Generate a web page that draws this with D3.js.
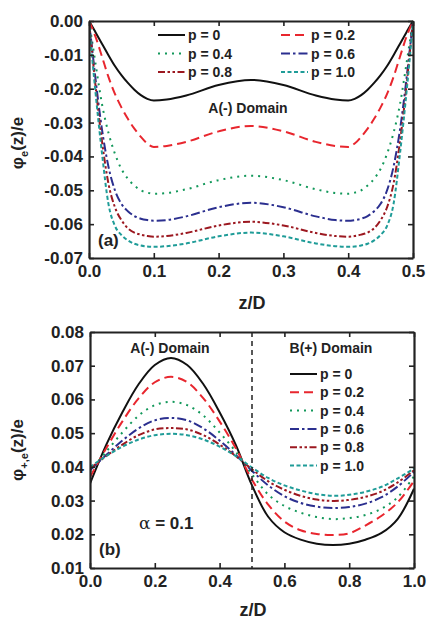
<!DOCTYPE html>
<html>
<head>
<meta charset="utf-8">
<script src="https://cdn.jsdelivr.net/npm/d3@7/dist/d3.min.js"></script>
<style>
  body { margin: 0; background: #fff; }
  svg { display: block; font-family: "Liberation Sans", Arial, sans-serif; font-weight: bold; }
  .tick text { font-size: 17px; fill: #222; }
  .leg { font-size: 14px; fill: #222; }
</style>
</head>
<body>
<svg id="chart" width="427" height="620"></svg>
<script>
// ---- panel (a): phi_e(z)/e over z/D in [0, 0.5]
var zA = [0, 0.005, 0.01, 0.02, 0.03, 0.04, 0.05, 0.06, 0.07, 0.08, 0.09, 0.1, 0.12, 0.15, 0.2, 0.25,
  0.3, 0.35, 0.38, 0.4, 0.41, 0.42, 0.43, 0.44, 0.45, 0.46, 0.47, 0.48, 0.49, 0.495, 0.5];
var phiA_p00 = [0, -0.0016, -0.0033, -0.0067, -0.0101, -0.0133, -0.0160, -0.0183, -0.0203, -0.0219, -0.0230, -0.0235, -0.0232, -0.0220, -0.0189, -0.0174,
  -0.0189, -0.0220, -0.0232, -0.0235, -0.0230, -0.0219, -0.0203, -0.0183, -0.0160, -0.0133, -0.0101, -0.0067, -0.0033, -0.0016, 0];
var phiA_p02 = [0, -0.0022, -0.0046, -0.0105, -0.0165, -0.0215, -0.0255, -0.0289, -0.0318, -0.0342, -0.0362, -0.0372, -0.0369, -0.0357, -0.0326, -0.0310,
  -0.0326, -0.0357, -0.0369, -0.0372, -0.0362, -0.0342, -0.0318, -0.0289, -0.0255, -0.0215, -0.0165, -0.0105, -0.0046, -0.0022, 0];
var phiA_p04 = [0, -0.0062, -0.0125, -0.0245, -0.0330, -0.0392, -0.0437, -0.0466, -0.0486, -0.0500, -0.0507, -0.0510, -0.0508, -0.0497, -0.0470, -0.0457,
  -0.0470, -0.0497, -0.0508, -0.0510, -0.0507, -0.0500, -0.0486, -0.0466, -0.0437, -0.0392, -0.0330, -0.0245, -0.0125, -0.0062, 0];
var phiA_p06 = [0, -0.0085, -0.0170, -0.0320, -0.0430, -0.0500, -0.0540, -0.0562, -0.0576, -0.0584, -0.0588, -0.0590, -0.0588, -0.0577, -0.0550, -0.0537,
  -0.0550, -0.0577, -0.0588, -0.0590, -0.0588, -0.0584, -0.0576, -0.0562, -0.0540, -0.0500, -0.0430, -0.0320, -0.0170, -0.0085, 0];
var phiA_p08 = [0, -0.0095, -0.0190, -0.0355, -0.0480, -0.0550, -0.0588, -0.0612, -0.0625, -0.0631, -0.0635, -0.0637, -0.0635, -0.0626, -0.0604, -0.0593,
  -0.0604, -0.0626, -0.0635, -0.0637, -0.0635, -0.0631, -0.0625, -0.0612, -0.0588, -0.0550, -0.0480, -0.0355, -0.0190, -0.0095, 0];
var phiA_p10 = [0, -0.0110, -0.0210, -0.0390, -0.0540, -0.0605, -0.0632, -0.0648, -0.0658, -0.0663, -0.0666, -0.0667, -0.0665, -0.0657, -0.0636, -0.0625,
  -0.0636, -0.0657, -0.0665, -0.0667, -0.0666, -0.0663, -0.0658, -0.0648, -0.0632, -0.0605, -0.0540, -0.0390, -0.0210, -0.0110, 0];

// ---- panel (b): phi_{+,e}(z)/e over z/D in [0, 1]
var zB = [0, 0.05, 0.1, 0.15, 0.2, 0.25, 0.3, 0.35, 0.4, 0.45, 0.5, 0.55, 0.6, 0.65, 0.7, 0.75, 0.8, 0.85, 0.9, 0.95, 1.0];
var phiB_p00 = [0.0350, 0.0465, 0.0562, 0.0645, 0.0702, 0.0723, 0.0702, 0.0645, 0.0562, 0.0465, 0.0345, 0.0252, 0.0206, 0.0184, 0.0172, 0.0168, 0.0172, 0.0184, 0.0204, 0.0246, 0.0335];
var phiB_p02 = [0.0370, 0.0455, 0.0535, 0.0603, 0.0651, 0.0667, 0.0651, 0.0603, 0.0535, 0.0455, 0.0362, 0.0288, 0.0238, 0.0212, 0.0201, 0.0198, 0.0203, 0.0226, 0.0255, 0.0295, 0.0358];
var phiB_p04 = [0.0385, 0.0445, 0.0502, 0.0552, 0.0583, 0.0593, 0.0583, 0.0552, 0.0502, 0.0445, 0.0378, 0.0318, 0.0284, 0.0264, 0.0251, 0.0245, 0.0248, 0.0257, 0.0276, 0.0310, 0.0372];
var phiB_p06 = [0.0390, 0.0435, 0.0478, 0.0514, 0.0538, 0.0545, 0.0538, 0.0514, 0.0478, 0.0435, 0.0388, 0.0345, 0.0313, 0.0293, 0.0282, 0.0278, 0.0281, 0.0291, 0.0310, 0.0342, 0.0385];
var phiB_p08 = [0.0395, 0.0432, 0.0466, 0.0494, 0.0511, 0.0515, 0.0511, 0.0494, 0.0466, 0.0432, 0.0393, 0.0357, 0.0332, 0.0314, 0.0303, 0.0299, 0.0302, 0.0311, 0.0327, 0.0354, 0.0390];
var phiB_p10 = [0.0400, 0.0432, 0.0460, 0.0481, 0.0494, 0.0498, 0.0494, 0.0481, 0.0460, 0.0432, 0.0398, 0.0367, 0.0345, 0.0330, 0.0319, 0.0314, 0.0317, 0.0326, 0.0341, 0.0366, 0.0395];

var pLabels = ['p = 0', 'p = 0.2', 'p = 0.4', 'p = 0.6', 'p = 0.8', 'p = 1.0'];
var xTicksA = [0, 0.1, 0.2, 0.3, 0.4, 0.5];
var yTicksA = [0, -0.01, -0.02, -0.03, -0.04, -0.05, -0.06, -0.07];
var xTicksB = [0, 0.2, 0.4, 0.6, 0.8, 1.0];
var yTicksB = [0.01, 0.02, 0.03, 0.04, 0.05, 0.06, 0.07, 0.08];

// line styles per p (same order as pLabels)
var STYLES = [
  { color: '#111111', dash: null },
  { color: '#e8262e', dash: '9,5' },
  { color: '#12985a', dash: '2,5' },
  { color: '#2b2f8f', dash: '9,3,2.5,3' },
  { color: '#9c1820', dash: '7,2.5,2.5,2.5,2.5,2.5' },
  { color: '#1f9c98', dash: '4,2.5' }
];

var svg = d3.select('#chart');

function panel(opt) {
  var x = d3.scaleLinear().domain(opt.xDomain).range([opt.left, opt.right]);
  var y = d3.scaleLinear().domain(opt.yDomain).range([opt.bottom, opt.top]);
  var g = svg.append('g');

  var clipId = 'clip' + opt.id;
  g.append('clipPath').attr('id', clipId).append('rect')
    .attr('x', opt.left).attr('y', opt.top - 1)
    .attr('width', opt.right - opt.left).attr('height', opt.bottom - opt.top + 2);

  // curves
  var line = d3.line().curve(opt.curve)
    .x(function (d) { return x(d[0]); }).y(function (d) { return y(d[1]); });
  opt.series.forEach(function (vals, i) {
    var pts = opt.z.map(function (z, j) { return [z, vals[j]]; });
    g.append('path').attr('clip-path', 'url(#' + clipId + ')')
      .attr('d', line(pts)).attr('fill', 'none')
      .attr('stroke', STYLES[i].color).attr('stroke-width', 2)
      .attr('stroke-dasharray', STYLES[i].dash);
  });

  var fmtY = function (d) { return d.toFixed(2); };
  var fmtX = function (d) { return d.toFixed(1); };

  var ax = [
    g.append('g').attr('transform', 'translate(0,' + opt.bottom + ')')
      .call(d3.axisBottom(x).tickValues(opt.xTicks).tickFormat(fmtX).tickSizeInner(-5).tickSizeOuter(0).tickPadding(5)),
    g.append('g').attr('transform', 'translate(0,' + opt.top + ')')
      .call(d3.axisTop(x).tickValues(opt.xTicks).tickFormat('').tickSizeInner(-5).tickSizeOuter(0)),
    g.append('g').attr('transform', 'translate(' + opt.left + ',0)')
      .call(d3.axisLeft(y).tickValues(opt.yTicks).tickFormat(fmtY).tickSizeInner(-5).tickSizeOuter(0).tickPadding(6)),
    g.append('g').attr('transform', 'translate(' + opt.right + ',0)')
      .call(d3.axisRight(y).tickValues(opt.yTicks).tickFormat('').tickSizeInner(-5).tickSizeOuter(0))
  ];
  ax.forEach(function (a) {
    a.select('.domain').attr('stroke', '#222').attr('stroke-width', 2.2);
    a.selectAll('.tick line').attr('stroke', '#222').attr('stroke-width', 1.6);
    a.selectAll('.tick text').attr('font-family', null).attr('font-size', null);
  });
  ax[0].selectAll('.tick text').attr('dy', '0.85em');

  // x title
  g.append('text').attr('x', (opt.left + opt.right) / 2 + 1).attr('y', opt.bottom + opt.xTitleDy)
    .attr('text-anchor', 'middle').attr('font-size', 18).attr('fill', '#222').text('z/D');

  // y title
  var yt = g.append('text')
    .attr('transform', 'translate(' + 23 + ',' + opt.yTitleY + ') rotate(-90)')
    .attr('text-anchor', 'middle').attr('font-size', 17).attr('fill', '#222');
  yt.append('tspan').text('\u03c6');
  yt.append('tspan').attr('font-size', 11).attr('dy', 5).text(opt.sub);
  yt.append('tspan').attr('dy', -5).text('(z)/e');

  return { g: g, x: x, y: y };
}

var a = panel({
  id: 'a', left: 89, right: 413, top: 21, bottom: 258,
  xDomain: [0, 0.5], yDomain: [-0.07, 0], xTicks: xTicksA, yTicks: yTicksA,
  z: zA, series: [phiA_p00, phiA_p02, phiA_p04, phiA_p06, phiA_p08, phiA_p10],
  curve: d3.curveMonotoneX, sub: 'e', yTitleY: 143, xTitleDy: 51
});

var b = panel({
  id: 'b', left: 90, right: 414, top: 332, bottom: 568,
  xDomain: [0, 1], yDomain: [0.01, 0.08], xTicks: xTicksB, yTicks: yTicksB,
  z: zB, series: [phiB_p00, phiB_p02, phiB_p04, phiB_p06, phiB_p08, phiB_p10],
  curve: d3.curveCatmullRom.alpha(0.5), sub: '+,e', yTitleY: 450, xTitleDy: 48
});

// domain boundary in (b)
b.g.append('line').attr('x1', b.x(0.5)).attr('x2', b.x(0.5))
  .attr('y1', b.y(0.08)).attr('y2', b.y(0.01))
  .attr('stroke', '#222').attr('stroke-width', 1.5).attr('stroke-dasharray', '5,4');

function legendItem(g, i, x0, yc) {
  var s = STYLES[i];
  g.append('line').attr('x1', x0).attr('x2', x0 + 27).attr('y1', yc).attr('y2', yc)
    .attr('stroke', s.color).attr('stroke-width', 2).attr('stroke-dasharray', s.dash);
  g.append('text').attr('class', 'leg').attr('x', x0 + 30).attr('y', yc)
    .attr('dy', '0.36em').text(pLabels[i]);
}

// legend (a): two columns
[0, 2, 4].forEach(function (i, r) { legendItem(a.g, i, 158, 35 + r * 18.5); });
[1, 3, 5].forEach(function (i, r) { legendItem(a.g, i, 281, 35 + r * 18.5); });

// legend (b): one column
pLabels.forEach(function (l, i) { legendItem(b.g, i, 290, 374 + i * 18.3); });

function note(g, txt, x, y, size, anchor) {
  return g.append('text').attr('x', x).attr('y', y).attr('dy', '0.36em')
    .attr('text-anchor', anchor || 'start').attr('font-size', size).attr('fill', '#222').text(txt);
}
note(a.g, 'A(-) Domain', 248, 108, 14, 'middle');
note(a.g, '(a)', 98, 240, 17);
note(b.g, 'A(-) Domain', 170, 348, 14, 'middle');
note(b.g, 'B(+) Domain', 331, 348, 14, 'middle');
note(b.g, '(b)', 99, 549, 17);
var al = note(b.g, '', 139, 523, 17);
al.append('tspan').attr('font-weight', 'normal').attr('font-family', '"DejaVu Serif", serif').text('\u03b1');
al.append('tspan').text(' = 0.1');
</script>
</body>
</html>
